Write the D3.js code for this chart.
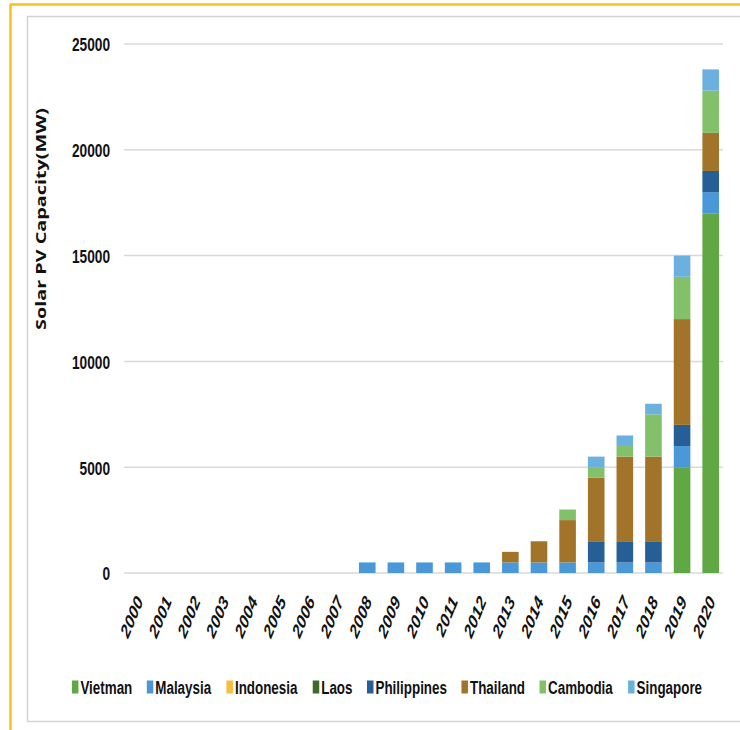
<!DOCTYPE html>
<html>
<head>
<meta charset="utf-8">
<script src="https://cdn.jsdelivr.net/npm/d3@7"></script>
<style>
  html, body { margin: 0; padding: 0; background: #fff; }
  svg { display: block; }
</style>
</head>
<body>
<div id="chart"></div>
<script>
// Solar PV installed capacity by country, stacked per year (MW)
const years = ["2000","2001","2002","2003","2004","2005","2006","2007","2008","2009","2010",
               "2011","2012","2013","2014","2015","2016","2017","2018","2019","2020"];

const countries = ["Vietman","Malaysia","Indonesia","Laos","Philippines","Thailand","Cambodia","Singapore"];

const vietnam     = [0,0,0,0,0,0,0,0,0,0,0,0,0,0,0,0,0,0,0,5000,17000];
const malaysia    = [0,0,0,0,0,0,0,0,500,500,500,500,500,500,500,500,500,500,500,1000,1000];
const indonesia   = [0,0,0,0,0,0,0,0,0,0,0,0,0,0,0,0,0,0,0,0,0];
const laos        = [0,0,0,0,0,0,0,0,0,0,0,0,0,0,0,0,0,0,0,0,0];
const philippines = [0,0,0,0,0,0,0,0,0,0,0,0,0,0,0,0,1000,1000,1000,1000,1000];
const thailand    = [0,0,0,0,0,0,0,0,0,0,0,0,0,500,1000,2000,3000,4000,4000,5000,1800];
const cambodia    = [0,0,0,0,0,0,0,0,0,0,0,0,0,0,0,500,500,500,2000,2000,2000];
const singapore   = [0,0,0,0,0,0,0,0,0,0,0,0,0,0,0,0,500,500,500,1000,1000];

const yTicks = [0, 5000, 10000, 15000, 20000, 25000];

const colors = ["#5fa844","#4a98d8","#f7bd3c","#3d6b2b","#255f96","#a2742a","#82c06a","#6cb0e0"];

const seriesValues = [vietnam, malaysia, indonesia, laos, philippines, thailand, cambodia, singapore];
const rows = years.map((yr, i) => {
  const r = { year: yr };
  countries.forEach((c, k) => { r[c] = seriesValues[k][i]; });
  return r;
});

const W = 740, H = 730;
const STRETCH = 1.4;   // tall, narrow lettering
const svg = d3.select("#chart").append("svg").attr("width", W).attr("height", H);

// outer frame: yellow rule on top and left, grey box inside
svg.append("line").attr("x1", 10).attr("x2", W).attr("y1", 4.5).attr("y2", 4.5)
  .attr("stroke", "#f7c01a").attr("stroke-width", 2.5);
svg.append("line").attr("x1", 10.5).attr("x2", 10.5).attr("y1", 4).attr("y2", H)
  .attr("stroke", "#f7c01a").attr("stroke-width", 2.5);
svg.append("path").attr("d", `M${W + 5},16.5 H27.5 V721.5 H${W + 5}`)
  .attr("fill", "none").attr("stroke", "#d4d4d4").attr("stroke-width", 1.5);

const x = d3.scaleBand().domain(years).range([124, 725]).paddingInner(0.42).paddingOuter(0.21);
const y = d3.scaleLinear().domain([0, 25000]).range([573, 44]);

// horizontal gridlines
svg.append("g").selectAll("line").data(yTicks).join("line")
  .attr("x1", 124).attr("x2", 723)
  .attr("y1", d => y(d)).attr("y2", d => y(d))
  .attr("stroke", "#d9d9d9").attr("stroke-width", 1.5);

const font = "'Liberation Sans', Arial, sans-serif";

// y axis labels
const yAxis = d3.axisLeft(y).tickValues(yTicks).tickSize(0).tickPadding(0).tickFormat(d3.format("d"));
const gy = svg.append("g").attr("transform", "translate(110,0)").call(yAxis);
gy.select(".domain").remove();
gy.selectAll("text").attr("font-family", font).attr("font-weight", "bold")
  .attr("font-size", 13.7).attr("fill", "#111")
  .attr("dy", "0.36em")
  .attr("transform", `scale(1,${STRETCH})`);

// stacked bars
const stack = d3.stack().keys(countries);
const layers = stack(rows);
svg.append("g").selectAll("g").data(layers).join("g")
  .attr("fill", (d, i) => colors[i])
  .selectAll("rect").data(d => d).join("rect")
  .attr("x", d => x(d.data.year))
  .attr("width", x.bandwidth())
  .attr("y", d => y(d[1]))
  .attr("height", d => y(d[0]) - y(d[1]));

// x axis labels, rotated
const xAxis = d3.axisBottom(x).tickSize(0).tickPadding(0);
const gx = svg.append("g").attr("transform", "translate(0,598)").call(xAxis);
gx.select(".domain").remove();
gx.selectAll("text")
  .attr("font-family", font).attr("font-weight", "bold").attr("font-style", "italic")
  .attr("font-size", 14).attr("fill", "#111")
  .attr("text-anchor", "end").attr("y", 0).attr("dy", "0.35em").attr("dx", "0")
  .attr("transform", `translate(1,0) scale(1,${STRETCH}) rotate(-60)`);

// y axis title
svg.append("text")
  .attr("transform", "translate(46,219) rotate(-90)")
  .attr("text-anchor", "middle")
  .attr("font-family", "'Open Sans', 'DejaVu Sans', sans-serif")
  .attr("font-weight", "bold").attr("font-size", 15).attr("fill", "#111")
  .attr("textLength", 222).attr("lengthAdjust", "spacingAndGlyphs")
  .text("Solar PV Capacity(MW)");

// legend: swatch + stretched label per country, laid out left to right
const legend = svg.append("g");
const items = legend.selectAll("g").data(countries).join("g");
items.append("rect").attr("width", 6.5).attr("height", 13).attr("y", -6.5)
  .attr("fill", (d, i) => colors[i]);
items.append("text").attr("x", 8.5).attr("dy", "0.36em")
  .attr("font-family", font).attr("font-weight", "bold")
  .attr("font-size", 13.4).attr("fill", "#111")
  .attr("transform", `scale(1,${STRETCH})`)
  .text(d => d);
const widths = [];
items.each(function () { widths.push(this.getBBox().width); });
const gap = 14.5;
const total = d3.sum(widths) + gap * (widths.length - 1);
const offsets = widths.map((w, i) => d3.sum(widths.slice(0, i)) + gap * i);
const startX = 387 - total / 2;
items.attr("transform", (d, i) => `translate(${startX + offsets[i]},687)`);
</script>
</body>
</html>
